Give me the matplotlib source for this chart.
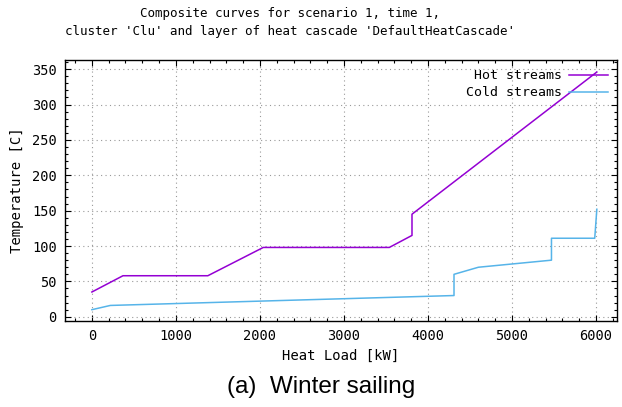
import numpy as np
import matplotlib
matplotlib.use('Agg')
import matplotlib.pyplot as plt
from matplotlib.ticker import MultipleLocator

# composite curve breakpoints (heat load kW, temperature C)
hot_load = [0, 370, 1380, 2040, 3540, 3810, 3810, 6010]
hot_temp = [35, 58, 58, 98, 98, 115, 145, 346]
cold_load = [0, 220, 4310, 4310, 4600, 5470, 5470, 5985, 6010]
cold_temp = [10, 16, 30, 60, 70, 80, 111, 111, 152]

title = "Composite curves for scenario 1, time 1,\ncluster 'Clu' and layer of heat cascade 'DefaultHeatCascade'"
caption = "(a)  Winter sailing"

W, H = 622, 407
fig = plt.figure(figsize=(W/100, H/100), dpi=100)
ax = fig.add_axes([65/W, 1-321/H, (617-65)/W, (321-60)/H])

mono = 'DejaVu Sans Mono'
ax.plot(hot_load, hot_temp, color='#9400D3', lw=1.1, label='Hot streams')
ax.plot(cold_load, cold_temp, color='#56B4E9', lw=1.1, label='Cold streams')

ax.set_xlim(-320, 6250)
ax.set_ylim(-6, 363)
ax.xaxis.set_major_locator(MultipleLocator(1000))
ax.xaxis.set_minor_locator(MultipleLocator(200))
ax.yaxis.set_major_locator(MultipleLocator(50))
ax.yaxis.set_minor_locator(MultipleLocator(10))
ax.tick_params(which='both', direction='in', top=True, right=True, width=0.8)
ax.tick_params(which='major', length=4.5, labelsize=9.8, pad=6)
ax.tick_params(which='minor', length=2.5)
for lab in ax.get_xticklabels() + ax.get_yticklabels():
    lab.set_family(mono)
ax.grid(True, which='major', color='#999999', ls=(0, (1, 3)), lw=0.8)
for s in ax.spines.values():
    s.set_linewidth(1.0)

ax.set_xlabel('Heat Load [kW]', family=mono, fontsize=10, labelpad=4)
ax.set_ylabel('Temperature [C]', family=mono, fontsize=10, labelpad=6)

leg = ax.legend(loc='upper right', frameon=False, markerfirst=False, alignment='right',
                prop={'family': mono, 'size': 9.5}, handlelength=2.9, labelspacing=0.3,
                borderaxespad=0.3, handletextpad=0.6)

fig.text(290/W, 1-23/H, title, ha='center', va='center', family=mono, fontsize=9, linespacing=1.5)
fig.text(321/W, 1-387/H, caption, ha='center', va='center', family='Liberation Sans', fontsize=17.5)

fig.savefig('out.png', dpi=100)
